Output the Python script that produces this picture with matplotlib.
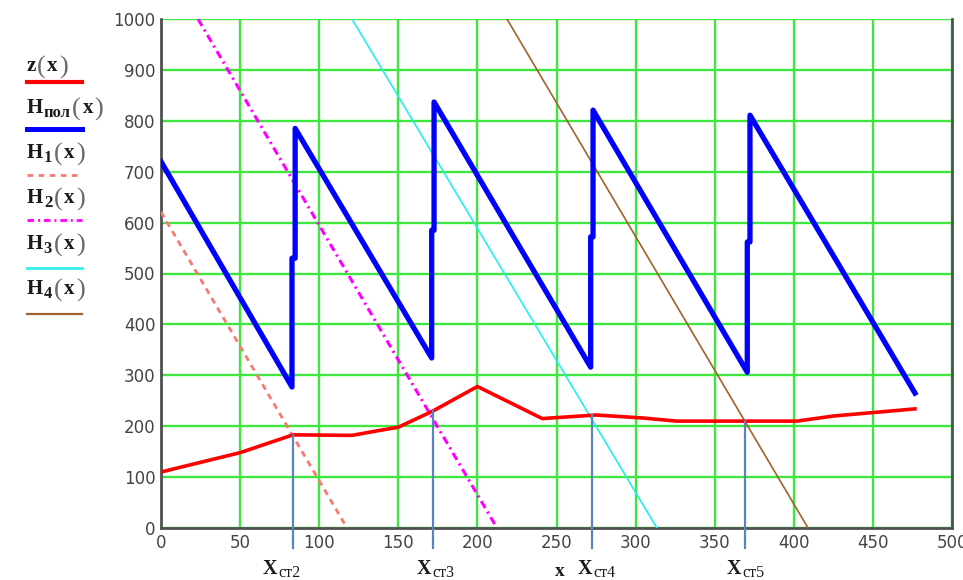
import numpy as np
import matplotlib
matplotlib.use("Agg")
import matplotlib.pyplot as plt
from matplotlib.lines import Line2D

# ground profile z(x)
z_x = [0, 50, 83.4, 120.7, 135, 150, 172, 200, 241, 275, 305, 326, 402, 425, 476.6]
z_y = [110, 148, 183, 182, 190, 198, 230, 278, 215, 222, 216, 210, 210, 220, 234]

# piezometric line H_пол(x): sawtooth with jumps at the pump stations
hp_x = [0, 82.8, 82.8, 84.8, 84.8, 171.1, 171.1, 172.6, 172.6,
        271.6, 271.6, 273.1, 273.1, 370.6, 370.6, 372.3, 372.3, 476.6]
hp_y = [720, 277, 530, 530, 785, 334, 585, 585, 837,
        316, 572, 572, 821, 306, 562, 562, 811, 265]

# head lines of the individual stations
h1_x, h1_y = [0, 117.6], [621, 0]
h2_x, h2_y = [23.4, 212.4], [1000, 0]
h3_x, h3_y = [120.7, 313.5], [1000, 0]
h4_x, h4_y = [218.7, 409.0], [1000, 0]

# station positions
x_st = [83.4, 172.0, 272.3, 369.0]
st_names = ["ст2", "ст3", "ст4", "ст5"]

x_ticks = [0, 50, 100, 150, 200, 250, 300, 350, 400, 450, 500]
y_ticks = [0, 100, 200, 300, 400, 500, 600, 700, 800, 900, 1000]

W, H = 963, 580
fig = plt.figure(figsize=(W / 100, H / 100), dpi=100)
fig.patch.set_facecolor("white")


def fx(px):
    return px / W


def fy(py):
    return 1 - py / H


ax = fig.add_axes([fx(161), fy(528), (952 - 161) / W, (528 - 19) / H])
ax.set_xlim(0, 500)
ax.set_ylim(0, 1000)
ax.set_xticks(x_ticks)
ax.set_yticks(y_ticks)
ax.set_xticklabels([str(t) for t in x_ticks])
ax.set_yticklabels([str(t) for t in y_ticks])
ax.tick_params(length=0, labelsize=12, labelcolor="#444444", pad=4)
ax.grid(True, color="#3fe63f", lw=1.7, zorder=0)
ax.set_axisbelow(True)
for side in ("left", "bottom", "right"):
    ax.spines[side].set_color("#505050")
    ax.spines[side].set_linewidth(2.0)
ax.spines["top"].set_visible(False)

ax.plot(h1_x, h1_y, color="#f47a72", lw=2.0, dashes=(2.2, 1.8), zorder=3)
ax.plot(h2_x, h2_y, color="#ff00ff", lw=2.2, dashes=(2.6, 1.4, 0.7, 1.4), zorder=3)
ax.plot(h3_x, h3_y, color="#22f0f0", lw=1.2, zorder=3)
ax.plot(h4_x, h4_y, color="#a0622d", lw=1.2, zorder=3)
ax.plot(hp_x, hp_y, color="#0000ff", lw=3.8, solid_joinstyle="round", zorder=4)
ax.plot(z_x, z_y, color="#ff0000", lw=2.6, zorder=5)

# station drop lines reaching below the axis
z_at_st = np.interp(x_st, z_x, z_y)
for xs, zs in zip(x_st, z_at_st):
    ax.plot([xs, xs], [zs, -39], color="#5a84bd", lw=1.6, clip_on=False, zorder=6)

serif = "Liberation Serif"

# station labels
label_px = [263, 417, 578, 727]
for px, name in zip(label_px, st_names):
    t = fig.text(fx(px), fy(574), "X", fontsize=14.5, family=serif, weight="bold",
                 ha="left", va="baseline", color="#1a1a1a")
    w = t.get_window_extent(fig.canvas.get_renderer()).width
    fig.text(fx(px + w + 0.5), fy(577), name, fontsize=11.5, family=serif,
             ha="left", va="baseline", color="#1a1a1a")

fig.text(fx(560), fy(563), "x", fontsize=14, family=serif,
         weight="bold", ha="center", va="top", color="#1a1a1a")

# legend drawn by hand
legend = [
    ("z", None, 65, 82, dict(color="#ff0000", lw=3.0)),
    ("H", "пол", 107, 129, dict(color="#0000ff", lw=3.6)),
    ("H", "1", 152, 175, dict(color="#f47a72", lw=2.0, dashes=(2.0, 2.0))),
    ("H", "2", 197, 220, dict(color="#ff00ff", lw=2.0, dashes=(2.4, 1.4, 0.7, 1.4))),
    ("H", "3", 243, 268, dict(color="#33f0f0", lw=2.0)),
    ("H", "4", 288, 314, dict(color="#a0622d", lw=1.6)),
]
renderer = fig.canvas.get_renderer()
for main, sub, ty, ly, style in legend:
    x = 27
    base = ty + 6
    t = fig.text(fx(x), fy(base), main, fontsize=15, family=serif, weight="bold",
                 ha="left", va="baseline", color="#1a1a1a")
    x += t.get_window_extent(renderer).width + 0.5
    if sub is not None:
        t = fig.text(fx(x), fy(base + 4), sub, fontsize=12, family=serif,
                     weight="bold", ha="left", va="baseline", color="#1a1a1a")
        x += t.get_window_extent(renderer).width + 1.5
    t = fig.text(fx(x), fy(base + 3), "(", fontsize=19, family=serif,
                 ha="left", va="baseline", color="#6a6a6a")
    x += t.get_window_extent(renderer).width + 1.5
    t = fig.text(fx(x), fy(base), "x", fontsize=15, family=serif, weight="bold",
                 ha="left", va="baseline", color="#1a1a1a")
    x += t.get_window_extent(renderer).width + 1.5
    fig.text(fx(x), fy(base + 3), ")", fontsize=19, family=serif,
             ha="left", va="baseline", color="#6a6a6a")
    fig.add_artist(Line2D([fx(27), fx(82)], [fy(ly), fy(ly)], **style))

fig.savefig("out.png", dpi=100)
